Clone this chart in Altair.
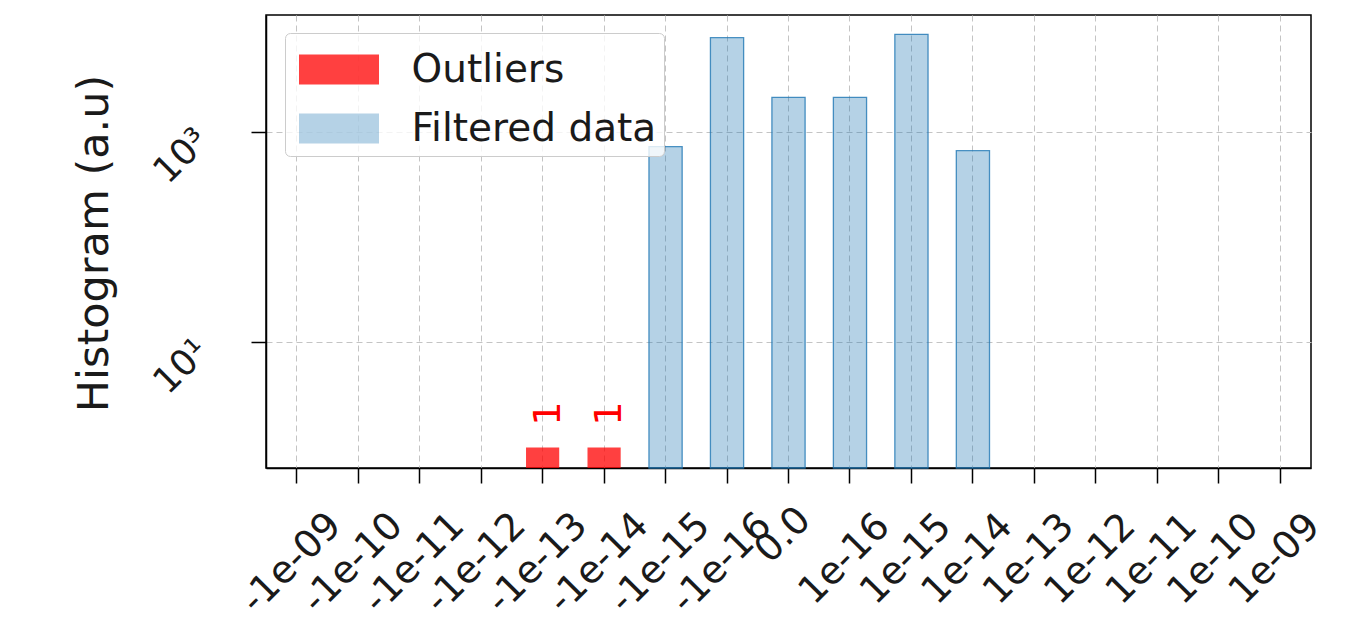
import altair as alt
import pandas as pd

# ---- data ----
x_labels = ["-1e-09", "-1e-10", "-1e-11", "-1e-12", "-1e-13", "-1e-14", "-1e-15",
            "-1e-16", "0.0", "1e-16", "1e-15", "1e-14", "1e-13", "1e-12",
            "1e-11", "1e-10", "1e-09"]

outlier_bins = ["-1e-13", "-1e-14"]
outlier_counts = [1, 1]

filtered_bins = ["-1e-15", "-1e-16", "0.0", "1e-16", "1e-15", "1e-14"]
filtered_counts = [720, 7810, 2120, 2120, 8410, 661]

groups = ["Outliers", "Filtered data"]
fill_colors = ["rgba(255,0,0,0.75)", "rgba(31,119,180,0.33)"]
edge_colors = ["rgba(255,0,0,0)", "rgba(31,119,180,0.8)"]

y_domain = [0.64, 12830]
y_ticks = [10, 1000]

FONT = "DejaVu Sans"

df = pd.DataFrame({
    "bin": outlier_bins + filtered_bins,
    "count": outlier_counts + filtered_counts,
    "group": [groups[0]] * len(outlier_bins) + [groups[1]] * len(filtered_bins),
})
df["base"] = y_domain[0]
df_out = df[df["group"] == groups[0]]

x_scale = alt.Scale(domain=x_labels, type="band", paddingInner=0.46, paddingOuter=0.23)
y_scale = alt.Scale(type="log", domain=y_domain, nice=False)

x_axis = alt.Axis(
    title=None, grid=True, bandPosition=0.5,
    labelAngle=-45, labelAlign="center", labelBaseline="middle",
    labelPadding={"condition": [{"test": "length(datum.label) == 3", "value": 52},
                                {"test": "length(datum.label) == 6", "value": 80}],
                  "value": 76},
    labelOffset=-5, labelOverlap=False, labelBound=False, labelFlush=False,
    tickSize=15,
)
y_axis = alt.Axis(
    values=y_ticks, grid=True,
    labelExpr="datum.value == 10 ? '10¹' : '10³'",
    labelAngle=-45, labelAlign="center", labelBaseline="middle",
    labelPadding=70, labelOffset=24, labelFontSize=36, tickSize=15,
    title="Histogram (a.u)", titleAngle=270, titleX=-172, titleY=228,
    titleAlign="center", titleBaseline="middle", titleFontSize=43,
    titleFont=FONT, titleFontWeight="normal", titleColor="#1a1a1a",
)

x_enc = alt.X("bin:N", scale=x_scale, axis=x_axis)
y_enc = alt.Y("count:Q", scale=y_scale, axis=y_axis)

bars = alt.Chart(df).mark_bar(strokeWidth=1.3).encode(
    x=x_enc,
    y=y_enc,
    y2=alt.Y2("base:Q"),
    color=alt.Color("group:N", scale=alt.Scale(domain=groups, range=fill_colors),
                    legend=alt.Legend(
                        title=None, orient="none", legendX=19, legendY=18,
                        padding=7, fillColor="rgba(255,255,255,0.8)",
                        strokeColor="#cccccc", cornerRadius=5,
                        symbolType="M-1.356,-0.508H1.356V0.508H-1.356Z",
                        symbolSize=3481, symbolOffset=17.5, symbolStrokeWidth=0,
                        labelOffset=43, rowPadding=9, labelFont=FONT,
                        labelFontSize=39, labelColor="#1a1a1a", labelLimit=600,
                    )),
    stroke=alt.Stroke("group:N", scale=alt.Scale(domain=groups, range=edge_colors),
                      legend=None),
)

labels = alt.Chart(df_out).mark_text(
    angle=270, align="center", baseline="middle", dx=34, dy=6,
    color="red", fontSize=38, font=FONT,
).encode(
    x=x_enc,
    y=y_enc,
    text=alt.Text("count:Q", format="d"),
)

chart = alt.layer(bars, labels).properties(
    width=1045, height=453,
    autosize=alt.AutoSizeParams(type="none"),
    padding={"left": 258, "top": 7, "right": 30, "bottom": 153},
).configure_view(
    stroke="black", strokeWidth=1.5,
).configure_axis(
    labelFont=FONT, labelFontSize=38, labelColor="#1a1a1a",
    tickColor="black", tickWidth=1.5,
    domainColor="black", domainWidth=1.5,
    gridColor="#c4c4c4", gridDash=[6, 4], gridWidth=1,
)

chart.save("out.html", embed_options={"renderer": "svg", "actions": False})
